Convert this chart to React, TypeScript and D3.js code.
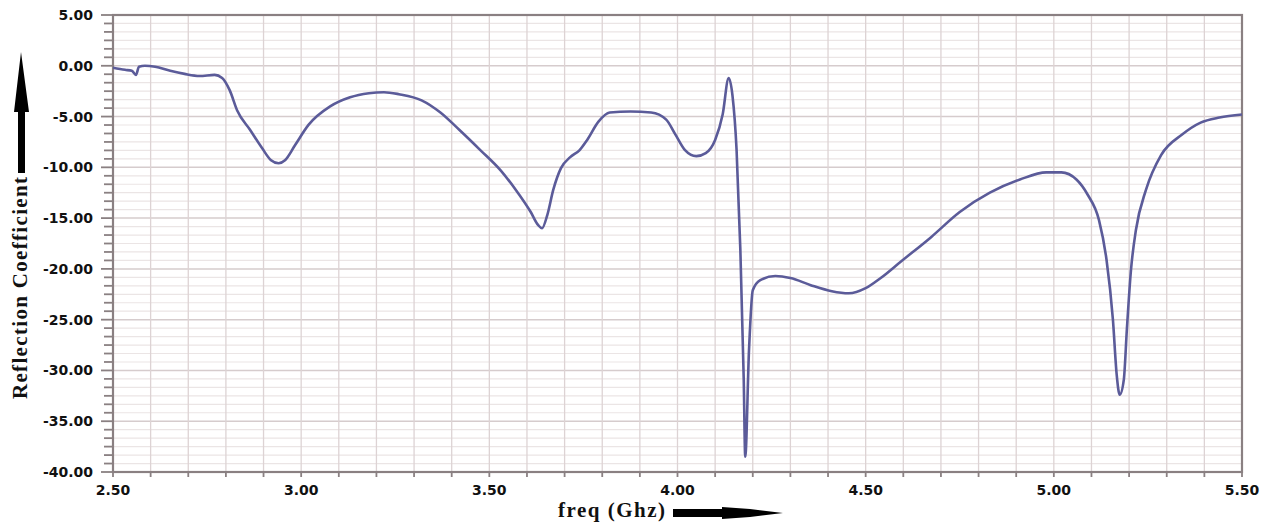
import React, { useEffect, useRef } from "react";
import * as d3 from "d3";

const freq = [
  2.5, 2.532, 2.55, 2.561, 2.569, 2.585, 2.612, 2.652, 2.69, 2.73, 2.77, 2.79,
  2.81, 2.83, 2.864, 2.896, 2.92, 2.94, 2.957, 2.984, 3.02, 3.077, 3.13, 3.18,
  3.22, 3.26, 3.32, 3.37, 3.42, 3.476, 3.53, 3.57, 3.61, 3.63, 3.64, 3.654,
  3.67, 3.69, 3.715, 3.74, 3.76, 3.79, 3.82, 3.875, 3.93, 3.97, 3.995, 4.02,
  4.05, 4.075, 4.1, 4.12, 4.136, 4.146, 4.157, 4.167, 4.176, 4.18, 4.19, 4.2,
  4.22, 4.26, 4.3, 4.354, 4.41, 4.455, 4.5, 4.54, 4.593, 4.673, 4.75, 4.83,
  4.91, 4.98, 5.02, 5.06, 5.09, 5.12, 5.14, 5.157, 5.167, 5.175, 5.186, 5.194,
  5.205, 5.218, 5.245, 5.285, 5.34, 5.39, 5.44, 5.5,
];
const s11 = [
  -0.2, -0.4, -0.5, -0.9, -0.1, 0.0, -0.1, -0.5, -0.8, -1.0, -0.9, -1.2,
  -2.4, -4.4, -6.3, -8.1, -9.3, -9.6, -9.3, -7.8, -5.8, -4.0, -3.1, -2.7,
  -2.6, -2.8, -3.4, -4.6, -6.3, -8.3, -10.3, -12.2, -14.4, -15.7, -16.0, -14.7,
  -12.2, -10.1, -9.0, -8.3, -7.3, -5.5, -4.6, -4.5, -4.6, -5.3, -6.8, -8.3,
  -8.9, -8.6, -7.3, -4.8, -1.2, -2.9, -8.3, -18.1, -30.9, -38.5, -28.0, -22.1,
  -21.1, -20.7, -20.9, -21.6, -22.2, -22.4, -21.9, -20.9, -19.3, -16.9, -14.4, -12.5,
  -11.2, -10.5, -10.5, -11.2, -12.7, -15.2, -19.1, -25.0, -30.4, -32.4, -30.9, -26.0,
  -20.1, -16.2, -12.2, -8.8, -6.8, -5.6, -5.1, -4.8,
];
const xTicks = [2.5, 3.0, 3.5, 4.0, 4.5, 5.0, 5.5];
const yTicks = [5, 0, -5, -10, -15, -20, -25, -30, -35, -40];
const xTitle = "freq (Ghz)";
const yTitle = "Reflection Coefficient";

const Chart = () => {
  const svgRef = useRef(null);

  useEffect(() => {
    const svg = d3.select(svgRef.current);
    svg.selectAll("*").remove();

    const left = 113, right = 1242, top = 15, bottom = 472;
    const x = d3.scaleLinear().domain([2.5, 5.5]).range([left, right]);
    const y = d3.scaleLinear().domain([-40, 5]).range([bottom, top]);

    const xMinor = d3.range(0, 31).map((i) => 2.5 + i * 0.1);
    const yMinor = d3.range(0, 55).map((i) => 5 - (i * 5) / 6);

    const grid = svg.append("g");
    grid
      .selectAll(".hg")
      .data(yMinor)
      .join("line")
      .attr("x1", left)
      .attr("x2", right)
      .attr("y1", (d) => y(d))
      .attr("y2", (d) => y(d))
      .style("stroke", (d, i) => (i % 6 === 0 ? "#d6cccd" : "#ebe5e5"))
      .style("stroke-width", (d, i) => (i % 6 === 0 ? 1.5 : 1.2));
    grid
      .selectAll(".vg")
      .data(xMinor)
      .join("line")
      .attr("x1", (d) => x(d))
      .attr("x2", (d) => x(d))
      .attr("y1", top)
      .attr("y2", bottom)
      .style("stroke", "#ddd3d4")
      .style("stroke-width", 1.3);

    // ticks
    svg
      .append("g")
      .selectAll("line")
      .data(yMinor)
      .join("line")
      .attr("x1", (d, i) => (i % 6 === 0 ? left - 12 : left - 9))
      .attr("x2", left)
      .attr("y1", (d) => y(d))
      .attr("y2", (d) => y(d))
      .style("stroke", "#8a8082")
      .style("stroke-width", 1.8);
    svg
      .append("g")
      .selectAll("line")
      .data(xMinor)
      .join("line")
      .attr("x1", (d) => x(d))
      .attr("x2", (d) => x(d))
      .attr("y1", bottom)
      .attr("y2", bottom + 5)
      .style("stroke", "#8a8082")
      .style("stroke-width", 1.8);

    svg
      .append("rect")
      .attr("x", left)
      .attr("y", top)
      .attr("width", right - left)
      .attr("height", bottom - top)
      .style("fill", "none")
      .style("stroke", "#8a8082")
      .style("stroke-width", 2.2);

    const line = d3
      .line()
      .x((d) => x(d[0]))
      .y((d) => y(d[1]))
      .curve(d3.curveMonotoneX);

    svg
      .append("path")
      .datum(freq.map((f, i) => [f, s11[i]]))
      .attr("d", line)
      .style("fill", "none")
      .style("stroke", "#5b5b99")
      .style("stroke-width", 2.6)
      .style("stroke-linejoin", "round");

    // tick labels
    svg
      .append("g")
      .selectAll("text")
      .data(yTicks)
      .join("text")
      .attr("x", 93)
      .attr("y", (d) => y(d))
      .attr("dy", "0.36em")
      .attr("text-anchor", "end")
      .style("font-family", "DejaVu Sans")
      .style("font-weight", "bold")
      .style("font-size", "14px")
      .style("fill", "#111")
      .text((d) => d.toFixed(2));
    svg
      .append("g")
      .selectAll("text")
      .data(xTicks)
      .join("text")
      .attr("x", (d) => x(d))
      .attr("y", 495)
      .attr("text-anchor", "middle")
      .style("font-family", "DejaVu Sans")
      .style("font-weight", "bold")
      .style("font-size", "14px")
      .style("fill", "#111")
      .text((d) => d.toFixed(2));

    // axis titles
    svg
      .append("text")
      .attr("x", 558)
      .attr("y", 517)
      .attr("textLength", 107)
      .style("font-family", "Liberation Serif")
      .style("font-weight", "bold")
      .style("font-size", "21px")
      .style("fill", "#111")
      .text(xTitle);
    svg
      .append("text")
      .attr("transform", "translate(27, 399) rotate(-90)")
      .attr("textLength", 222)
      .style("font-family", "Liberation Serif")
      .style("font-weight", "bold")
      .style("font-size", "21px")
      .style("fill", "#111")
      .text(yTitle);

    // arrows
    svg
      .append("path")
      .attr("d", "M21,52 L29,112 L25,112 L25,173 L18,173 L18,112 L14,112 Z")
      .style("fill", "#000");
    svg
      .append("path")
      .attr("d", "M673,509 L722,509 L722,507 L750,509 L783,513 L750,517 L722,519 L722,517 L673,517 Z")
      .style("fill", "#000");
  }, []);

  return (
    <svg
      ref={svgRef}
      width={1266}
      height={522}
      style={{ position: "absolute", left: 0, top: 0, background: "#fff" }}
    ></svg>
  );
};

export default function App() {
  return <Chart />;
}
